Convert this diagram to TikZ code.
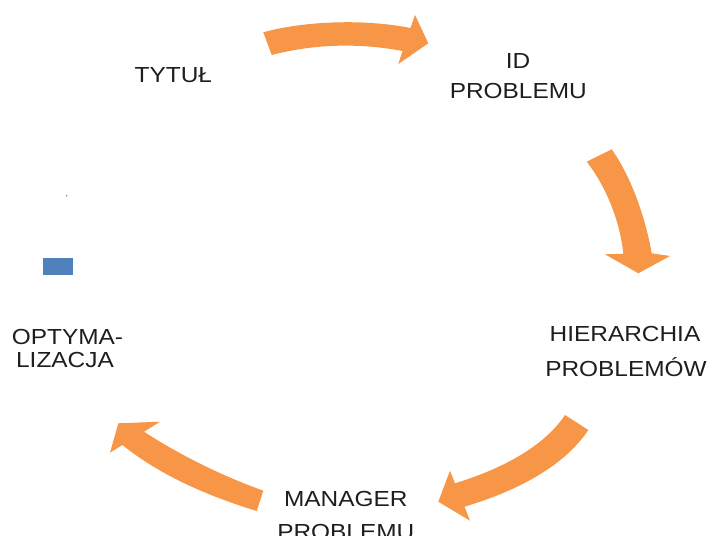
\documentclass[tikz,border=0pt]{standalone}
\usepackage{fontspec}
\setmainfont{Liberation Sans}
\definecolor{arroworange}{HTML}{F79646}
\definecolor{accentblue}{HTML}{4F81BD}
\definecolor{labeltext}{HTML}{1E1E1E}
\newcommand{\widetext}[1]{\scalebox{1.12}[1]{#1}}
\tikzset{
  cyclearrow/.style={fill=arroworange, draw=none},
  lbl/.style={font=\fontsize{21.8}{24}\selectfont, text=labeltext, anchor=base, inner sep=0pt}
}
\begin{document}
\begin{tikzpicture}[x=1pt, y=-1pt]
\useasboundingbox (0,0) rectangle (708,535);
\clip (0,0) rectangle (708,535);

% curved cycle arrows
\fill[cyclearrow] (263.3,32.3) .. controls (300,22) and (360,18) .. (410.5,28)
  -- (415,15) -- (428.3,43.3) -- (398.3,64) -- (402.5,51)
  .. controls (355,42) and (310,45) .. (271.7,55) -- cycle;
\fill[cyclearrow] (586.7,161.7) -- (611.7,149.3)
  .. controls (630,175) and (645,215) .. (651.7,253.3)
  -- (670,256) -- (638.3,273.3) -- (605,254.3) -- (623.3,253.8)
  .. controls (620,220) and (605,185) .. (586.7,161.7) -- cycle;
\fill[cyclearrow] (565,415) -- (588.3,430)
  .. controls (565,465) and (520,490) .. (464.5,506.7)
  -- (470,520.7) -- (438.3,501.7) -- (450,470.7) -- (455,483.3)
  .. controls (505,468) and (545,445) .. (565,415) -- cycle;
\fill[cyclearrow] (263.3,490.7)
  .. controls (220,475) and (180,455) .. (144,431.7)
  -- (160,421.7) -- (118.3,423.3) -- (110,452.7) -- (122.4,445)
  .. controls (160,475) and (205,495) .. (256.7,511) -- cycle;

% small blue marks
\fill[accentblue] (43.3,258.3) rectangle (72.7,275);
\fill[accentblue] (66.7,195.7) circle (0.8);

% labels
\node[lbl] (tytul) at (173.3,82.5) {\widetext{TYTUŁ}};
\node[lbl] (idA) at (518,68.3) {\widetext{ID}};
\node[lbl] (idB) at (518.3,98.3) {\widetext{PROBLEMU}};
\node[lbl] (hierA) at (625,341.7) {\widetext{HIERARCHIA}};
\node[lbl] (hierB) at (626,376) {\widetext{PROBLEMÓW}};
\node[lbl] (manA) at (345.8,506.7) {\widetext{MANAGER}};
\node[lbl] (manB) at (345.8,539) {\widetext{PROBLEMU}};
\node[lbl] (optA) at (67.5,344) {\widetext{OPTYMA-}};
\node[lbl] (optB) at (65,367) {\widetext{LIZACJA}};
\end{tikzpicture}
\end{document}
